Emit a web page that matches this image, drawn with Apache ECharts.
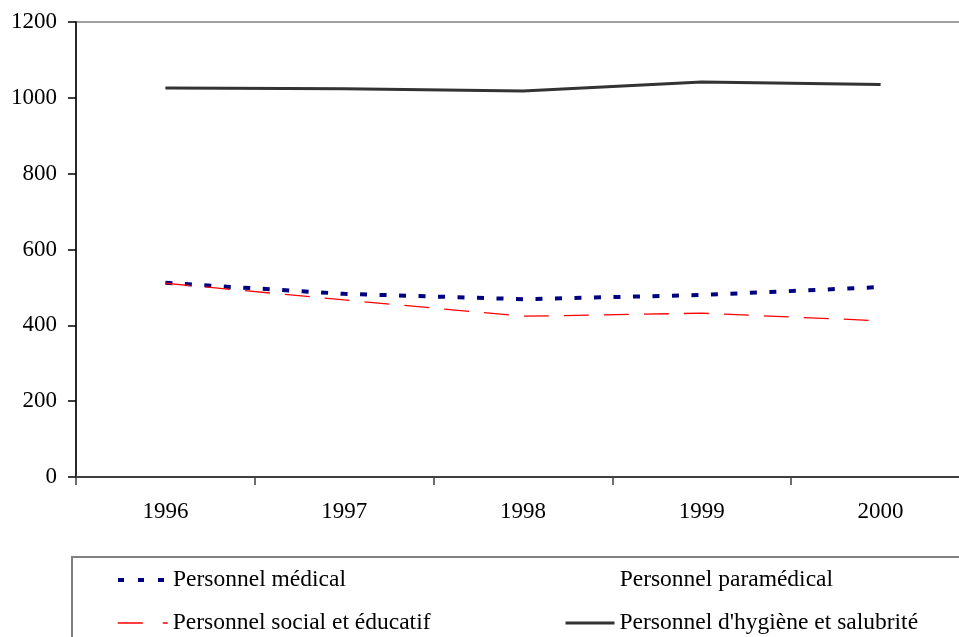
<!DOCTYPE html>
<html>
<head>
<meta charset="utf-8">
<script src="https://cdn.jsdelivr.net/npm/echarts@6/dist/echarts.min.js"></script>
<style>html,body{margin:0;padding:0;background:#fff;overflow:hidden;width:959px;height:637px;}#c{width:970px;height:637px;}</style>
</head>
<body>
<div id="c"></div>
<script>
var years = ['1996', '1997', '1998', '1999', '2000'];
var medical = [512, 483, 469, 480, 501];
var paramedical = [null, null, null, null, null];
var social = [511, 467, 424, 432, 412];
var hygiene = [1026, 1024, 1018, 1042, 1035];
var names = ['Personnel médical', 'Personnel paramédical', 'Personnel social et éducatif', "Personnel d'hygiène et salubrité"];

var font = 'Liberation Serif, Times New Roman, serif';
var chart = echarts.init(document.getElementById('c'), null, {renderer: 'canvas'});
function leg(name, left, top, w, ls) {
  return {
    data: [name], left: left, top: top, orient: 'horizontal', padding: 0,
    itemWidth: w, itemHeight: 14, itemGap: 0, selectedMode: false,
    itemStyle: {opacity: 0},
    lineStyle: ls,
    textStyle: {fontFamily: font, fontSize: 23.5, color: '#000', padding: [0, 0, 0, 0]}
  };
}
chart.setOption({
  animation: false,
  backgroundColor: '#fff',
  grid: {left: 76, top: 22, right: 0, bottom: 160, show: true, borderColor: '#a0a0a0', borderWidth: 2},
  xAxis: {
    type: 'category', data: years, boundaryGap: true,
    axisLine: {lineStyle: {color: '#404040', width: 2}},
    axisTick: {show: true, length: 8, lineStyle: {color: '#404040', width: 1.5}},
    axisLabel: {fontFamily: font, fontSize: 23, color: '#000', margin: 23},
    splitLine: {show: false}
  },
  yAxis: {
    type: 'value', min: 0, max: 1200, interval: 200,
    axisLine: {show: true, lineStyle: {color: '#000', width: 1.5}},
    axisTick: {show: true, length: 8, lineStyle: {color: '#000', width: 1.5}},
    axisLabel: {fontFamily: font, fontSize: 23, color: '#000', margin: 19, formatter: function (v) { return String(v); }},
    splitLine: {show: false}
  },
  legend: [
    leg(names[0], 116, 568, 50, {color: '#000080', width: 4, type: [6, 14]}),
    leg(names[1], 609, 568, 0.1, {opacity: 0}),
    leg(names[2], 117, 611, 50, {color: '#ff0000', width: 1.5, type: [25, 20]}),
    leg(names[3], 564, 611, 49, {color: '#333333', width: 3, type: 'solid'})
  ],
  graphic: [{
    type: 'rect', shape: {x: 72, y: 557, width: 940, height: 120},
    style: {fill: 'none', stroke: '#808080', lineWidth: 2}, silent: true, z: -1
  }],
  series: [
    {name: names[0], type: 'line', data: medical, showSymbol: false, symbol: 'none',
     lineStyle: {color: '#000080', width: 4, type: [7, 12.5]}, itemStyle: {color: '#000080'}},
    {name: names[1], type: 'line', data: paramedical, showSymbol: false, symbol: 'none',
     lineStyle: {color: '#ffffff', width: 0, opacity: 0}, itemStyle: {color: '#ffffff', opacity: 0}},
    {name: names[2], type: 'line', data: social, showSymbol: false, symbol: 'none',
     lineStyle: {color: '#ff0000', width: 1.3, type: [25, 15]}, itemStyle: {color: '#ff0000'}},
    {name: names[3], type: 'line', data: hygiene, showSymbol: false, symbol: 'none',
     lineStyle: {color: '#333333', width: 3}, itemStyle: {color: '#333333'}}
  ]
});
</script>
</body>
</html>
